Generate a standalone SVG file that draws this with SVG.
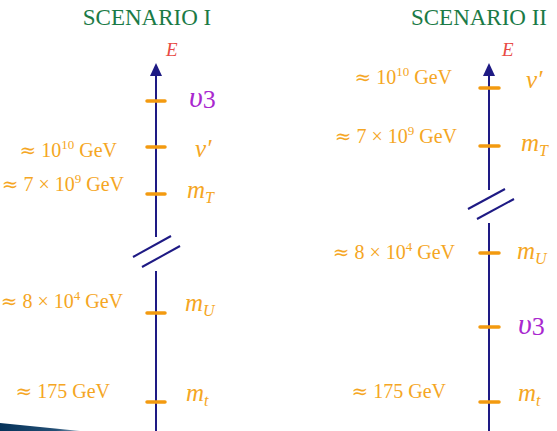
<svg xmlns="http://www.w3.org/2000/svg" width="557" height="431" viewBox="0 0 557 431">
<defs>
<style>
.title{font-family:"Liberation Serif",serif;font-size:23px;fill:#1b7a46}
.e{font-family:"Liberation Serif",serif;font-style:italic;font-size:19px;fill:#e84a45}
.val{font-family:"Liberation Serif",serif;font-size:20px;fill:#f5a623}
.ap{font-family:"DejaVu Serif",serif;font-size:20px}
.sup{font-size:13px}
.m{font-family:"Liberation Serif",serif;font-style:italic;font-size:25px;fill:#f5a623}
.sub{font-size:16px}
.ups{font-family:"Liberation Serif",serif;font-style:italic;font-size:30px;fill:#a928cf}
.axis{stroke:#1e1a84;stroke-width:2;fill:none}
.head{fill:#1e1a84}
.tick{stroke:#f39a10;stroke-width:3.5;stroke-linecap:round}
</style>
<linearGradient id="wedge" x1="0" y1="0" x2="1" y2="0">
<stop offset="0" stop-color="#06335a"/>
<stop offset="0.7" stop-color="#244f75"/>
<stop offset="1" stop-color="#8aa3b8"/>
</linearGradient>
</defs>

<polygon points="0,423 80,431 0,431" fill="url(#wedge)"/>

<text class="title" x="147" y="25" text-anchor="middle">SCENARIO I</text>
<text class="title" x="479" y="25" text-anchor="middle">SCENARIO II</text>

<g id="connectors">
<line class="axis" x1="156" y1="237" x2="156" y2="74"/>
<path class="head" d="M156,63 L162,76 L150,76 Z"/>
<line class="axis" x1="156" y1="271" x2="156" y2="431"/>
<line class="axis" x1="133" y1="257" x2="171" y2="236"/>
<line class="axis" x1="142" y1="267" x2="180" y2="246"/>
<line class="axis" x1="489" y1="190" x2="489" y2="74"/>
<path class="head" d="M489,63 L495,76 L483,76 Z"/>
<line class="axis" x1="489" y1="223" x2="489" y2="431"/>
<line class="axis" x1="468" y1="209" x2="505" y2="189"/>
<line class="axis" x1="477" y1="219" x2="514" y2="199"/>
</g>

<g id="scenario1">
<text class="e" x="166" y="56">E</text>
<g id="s1-v3">
<line class="tick" x1="147" y1="101" x2="165" y2="101"/>
<text class="ups" x="189" y="107">υ<tspan dy="1" font-style="normal" font-size="26">3</tspan></text>
</g>
<g id="s1-vp">
<line class="tick" x1="147" y1="147" x2="165" y2="147"/>
<text class="m" x="195" y="157">v′</text>
<text class="val" x="117" y="157" text-anchor="end"><tspan class="ap">≈</tspan> 10<tspan class="sup" dy="-8">10</tspan><tspan dy="8"> GeV</tspan></text>
</g>
<g id="s1-mT">
<line class="tick" x1="147" y1="194" x2="165" y2="194"/>
<text class="m" x="187" y="198">m<tspan class="sub" dy="5">T</tspan></text>
<text class="val" x="124" y="191" text-anchor="end"><tspan class="ap">≈</tspan> 7 × 10<tspan class="sup" dy="-8">9</tspan><tspan dy="8"> GeV</tspan></text>
</g>
<g id="s1-mU">
<line class="tick" x1="147" y1="313" x2="165" y2="313"/>
<text class="m" x="185" y="311">m<tspan class="sub" dy="5">U</tspan></text>
<text class="val" x="123" y="308" text-anchor="end"><tspan class="ap">≈</tspan> 8 × 10<tspan class="sup" dy="-8">4</tspan><tspan dy="8"> GeV</tspan></text>
</g>
<g id="s1-mt">
<line class="tick" x1="147" y1="402" x2="165" y2="402"/>
<text class="m" x="186" y="401">m<tspan class="sub" dy="5">t</tspan></text>
<text class="val" x="110" y="398" text-anchor="end"><tspan class="ap">≈</tspan> 175 GeV</text>
</g>
</g>

<g id="scenario2">
<text class="e" x="502" y="56">E</text>
<g id="s2-vp">
<line class="tick" x1="480" y1="88" x2="499" y2="88"/>
<text class="m" x="526" y="88">v′</text>
<text class="val" x="452" y="84" text-anchor="end"><tspan class="ap">≈</tspan> 10<tspan class="sup" dy="-8">10</tspan><tspan dy="8"> GeV</tspan></text>
</g>
<g id="s2-mT">
<line class="tick" x1="480" y1="146" x2="499" y2="146"/>
<text class="m" x="521" y="151">m<tspan class="sub" dy="5">T</tspan></text>
<text class="val" x="457" y="143" text-anchor="end"><tspan class="ap">≈</tspan> 7 × 10<tspan class="sup" dy="-8">9</tspan><tspan dy="8"> GeV</tspan></text>
</g>
<g id="s2-mU">
<line class="tick" x1="480" y1="253" x2="499" y2="253"/>
<text class="m" x="517" y="259">m<tspan class="sub" dy="5">U</tspan></text>
<text class="val" x="455" y="259" text-anchor="end"><tspan class="ap">≈</tspan> 8 × 10<tspan class="sup" dy="-8">4</tspan><tspan dy="8"> GeV</tspan></text>
</g>
<g id="s2-v3">
<line class="tick" x1="480" y1="327" x2="499" y2="327"/>
<text class="ups" x="518" y="334">υ<tspan dy="1" font-style="normal" font-size="26">3</tspan></text>
</g>
<g id="s2-mt">
<line class="tick" x1="480" y1="402" x2="499" y2="402"/>
<text class="m" x="518" y="401">m<tspan class="sub" dy="5">t</tspan></text>
<text class="val" x="446" y="398" text-anchor="end"><tspan class="ap">≈</tspan> 175 GeV</text>
</g>
</g>
</svg>
